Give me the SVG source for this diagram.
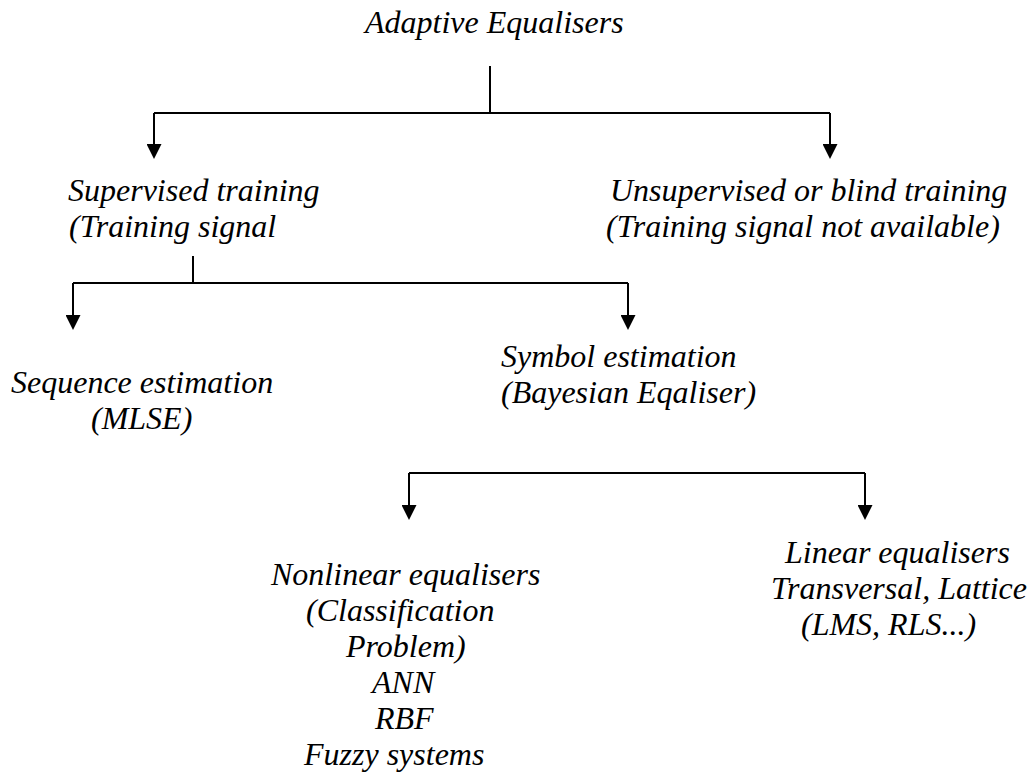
<svg xmlns="http://www.w3.org/2000/svg" width="1033" height="778" viewBox="0 0 1033 778">
<style>
text{font-family:"Liberation Serif","Times New Roman",serif;font-style:italic;font-size:32px;fill:#000}
.c{fill:none;stroke:#000;stroke-width:2}
.a{marker-end:url(#ah)}
</style>
<defs>
<marker id="ah" markerUnits="userSpaceOnUse" viewBox="0 0 15 15" refX="0" refY="7.5" markerWidth="15" markerHeight="15" orient="auto">
<path d="M0,0 L15,7.5 L0,15 z" fill="#000"/>
</marker>
</defs>
<rect width="1033" height="778" fill="#fff"/>
<g id="connectors">
<path class="c" d="M490,66 V113"/>
<path class="c" d="M154,113 H830"/>
<path class="c a" d="M154,113 V144"/>
<path class="c a" d="M830,113 V144"/>
<path class="c" d="M193,256 V283"/>
<path class="c" d="M73,283 H628"/>
<path class="c a" d="M73,283 V315"/>
<path class="c a" d="M628,283 V315"/>
<path class="c" d="M409,473 H865"/>
<path class="c a" d="M409,473 V505"/>
<path class="c a" d="M865,473 V505"/>
</g>
<g id="root"><text x="365" y="33">Adaptive Equalisers</text></g>
<g id="supervised"><text x="68" y="201">Supervised training</text><text x="69" y="237">(Training signal</text></g>
<g id="unsupervised"><text x="610" y="201">Unsupervised or blind training</text><text x="606" y="237">(Training signal not available)</text></g>
<g id="sequence"><text x="11" y="393">Sequence estimation</text><text x="91" y="429">(MLSE)</text></g>
<g id="symbol"><text x="501" y="367">Symbol estimation</text><text x="501" y="403">(Bayesian Eqaliser)</text></g>
<g id="nonlinear">
<text x="271" y="585">Nonlinear equalisers</text>
<text x="306" y="621">(Classification</text>
<text x="346" y="657">Problem)</text>
<text x="372" y="693">ANN</text>
<text x="375" y="729">RBF</text>
<text x="304" y="765">Fuzzy systems</text>
</g>
<g id="linear">
<text x="785" y="563">Linear equalisers</text>
<text x="771" y="599">Transversal, Lattice</text>
<text x="801" y="635">(LMS, RLS...)</text>
</g>
</svg>
